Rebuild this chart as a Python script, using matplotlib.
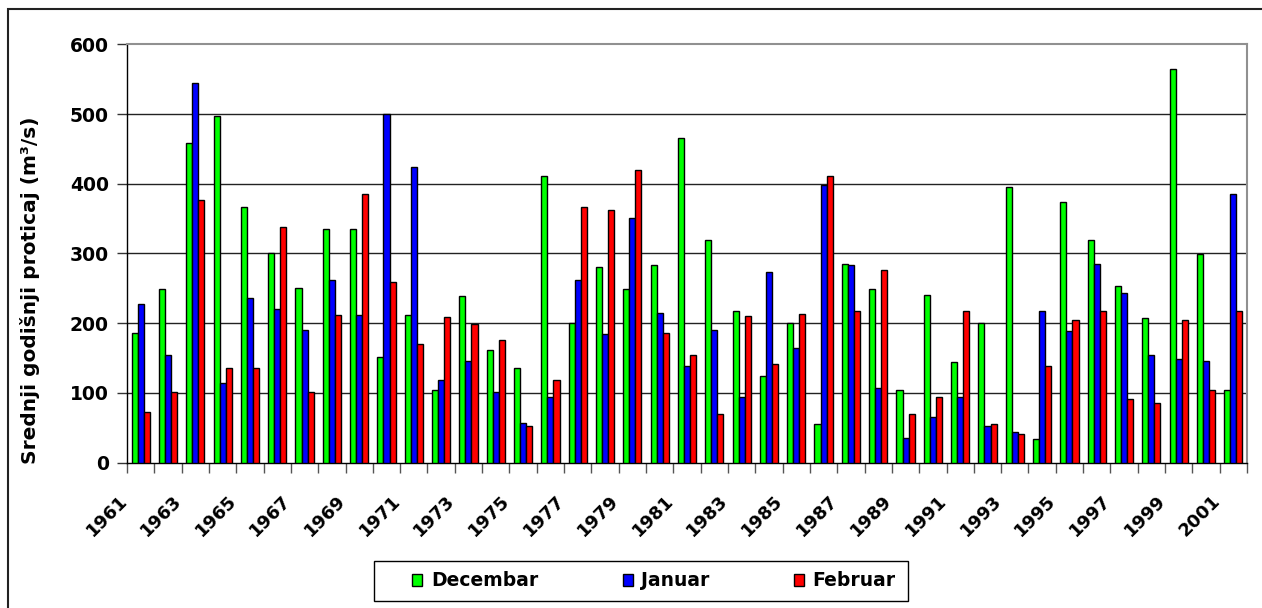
import matplotlib
matplotlib.use("Agg")
import matplotlib.pyplot as plt
import matplotlib.transforms as mtransforms
from matplotlib.patches import Rectangle
import numpy as np

plt.rcParams['font.family'] = ['DejaVu Sans']
plt.rcParams['font.weight'] = 'bold'

years = list(range(1961, 2002))
decembar = [186, 249, 458, 497, 366, 301, 251, 335, 335, 152,
            212, 104, 239, 162, 136, 411, 201, 280, 249, 283,
            466, 320, 217, 125, 201, 55, 285, 249, 104, 241,
            144, 201, 396, 34, 374, 320, 254, 207, 565, 299,
            104]
januar = [228, 155, 545, 115, 236, 220, 191, 262, 212, 500,
          424, 118, 146, 102, 57, 94, 262, 184, 351, 215,
          139, 191, 94, 273, 165, 398, 283, 107, 36, 66,
          94, 52, 44, 217, 189, 285, 244, 155, 149, 146,
          385]
februar = [73, 102, 377, 136, 136, 338, 102, 212, 385, 259,
           170, 209, 199, 176, 52, 118, 366, 362, 420, 186,
           155, 70, 210, 141, 213, 411, 217, 276, 70, 94,
           217, 55, 41, 139, 204, 217, 91, 86, 204, 104,
           217]
series_names = ['Decembar', 'Januar', 'Februar']
series_colors = ['#00FF00', '#0000FF', '#FF0000']
y_ticks = [0, 100, 200, 300, 400, 500, 600]
ylabel = 'Srednji godišnji proticaj (m³/s)'

FS = 13.5
W, H = 1262, 608
fig = plt.figure(figsize=(W / 100, H / 100), dpi=100)
ax = fig.add_axes([127 / W, 1 - 462.7 / H, (1247 - 127) / W, (462.7 - 44.3) / H])

x = np.arange(len(years))
bw = 1 / 4.5
bars = []
for i, (vals, name, col) in enumerate(zip([decembar, januar, februar], series_names, series_colors)):
    b = ax.bar(x + (i - 1) * bw, vals, width=bw, color=col, edgecolor='black',
               linewidth=1.0, label=name, zorder=3)
    bars.append(b)

ax.set_xlim(-0.5, len(years) - 0.5)
ax.set_ylim(0, 600)
ax.set_yticks(y_ticks)
ax.set_yticklabels([str(v) for v in y_ticks], fontsize=FS, fontweight='bold')
for v in y_ticks[1:-1]:
    ax.axhline(v, color='#222222', linewidth=1.0, zorder=1)

# x ticks: marks at category boundaries, labels at every other year
ax.set_xticks(np.arange(-0.5, len(years), 1.0), minor=True)
ax.set_xticks(x[::2])
ax.set_xticklabels([str(y) for y in years[::2]], rotation=45, ha='right', va='top',
                   fontsize=13, fontweight='bold')
ax.tick_params(axis='x', which='major', length=0, pad=21)
ax.tick_params(axis='x', which='minor', length=7, width=1, color='#555555', direction='out')
ax.tick_params(axis='y', which='major', length=7, width=1, color='#333333', direction='out', pad=6)
offset = mtransforms.ScaledTranslation(-10 / 100, 0, fig.dpi_scale_trans)
for lab in ax.get_xticklabels():
    lab.set_transform(lab.get_transform() + offset)

for s in ['left', 'bottom']:
    ax.spines[s].set_color('black')
    ax.spines[s].set_linewidth(1.0)
for s in ['top', 'right']:
    ax.spines[s].set_color('#909090')
    ax.spines[s].set_linewidth(1.5)

fig.text(30 / W, 1 - 290 / H, ylabel, rotation=90, ha='center', va='center',
         fontsize=14.5, fontweight='bold')

# legend
leg = fig.legend(handles=bars, labels=series_names, loc='center',
                 bbox_to_anchor=(654 / W, 1 - 581 / H), ncol=3, frameon=False,
                 handlelength=0.55, handleheight=0.55, handletextpad=0.45,
                 columnspacing=4.5, prop={'weight': 'bold', 'size': FS})
fig.patches.append(Rectangle((374 / W, 1 - 601 / H), (908 - 374) / W, 40 / H,
                             transform=fig.transFigure, facecolor='none',
                             edgecolor='black', linewidth=1.0))
# outer chart border
fig.patches.append(Rectangle((8 / W, -0.1), 1.2, 1.1 - 9 / H,
                             transform=fig.transFigure, facecolor='none',
                             edgecolor='#222222', linewidth=1.5))

fig.savefig('out.png', dpi=100)
